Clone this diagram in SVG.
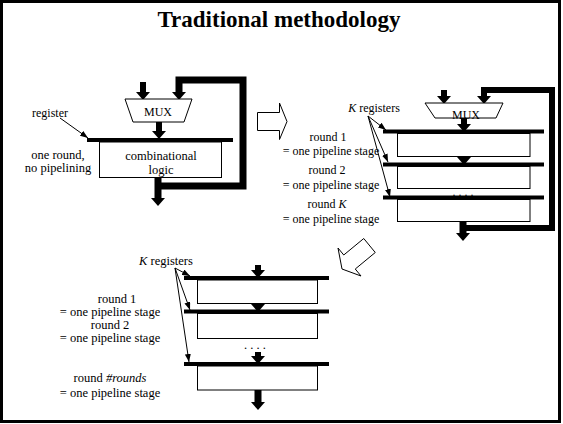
<svg xmlns="http://www.w3.org/2000/svg" width="563" height="424" viewBox="0 0 563 424">
<defs>
<style>
text{font-family:"Liberation Serif","Times New Roman",serif;fill:#000;text-anchor:middle}
.t12{font-size:12px}
.t125{font-size:12.5px}
.title{font-size:23px;font-weight:bold}
.bar{stroke:#000;stroke-width:4}
.box{fill:#fff;stroke:#000;stroke-width:1}
.thk{stroke:#000;stroke-width:6;fill:none;marker-end:url(#big)}
.fb{stroke:#000;stroke-width:7;fill:none;stroke-linejoin:miter;marker-end:url(#big)}
.thin{stroke:#000;stroke-width:1;fill:none;marker-end:url(#small)}
.blk{fill:#fff;stroke:#000;stroke-width:1}
</style>
<marker id="big" markerUnits="userSpaceOnUse" markerWidth="8" markerHeight="14" viewBox="0 0 8 14" refX="0" refY="7" orient="auto"><path d="M0,0 L8,7 L0,14 Z" fill="#000"/></marker>
<marker id="small" markerUnits="userSpaceOnUse" markerWidth="8" markerHeight="6" viewBox="0 0 8 6" refX="8" refY="3" orient="auto"><path d="M0,0 L8,3 L0,6 Z" fill="#000"/></marker>
</defs>
<rect x="1.5" y="1.5" width="558" height="420" fill="#fff" stroke="#000" stroke-width="3"/>
<text class="title" x="279" y="27">Traditional methodology</text>

<g id="connectors">
<line class="thk" x1="143" y1="82" x2="143" y2="92"/>
<line class="thk" x1="159" y1="122" x2="159" y2="131"/>
<path class="fb" d="M158,186 H243 V80 H179 V92"/>
<line class="thk" x1="158" y1="177" x2="158" y2="198" style="stroke-width:7"/>
<line class="thin" x1="60" y1="118" x2="88" y2="138"/>
<line class="thk" x1="444" y1="90" x2="444" y2="96"/>
<path class="fb" d="M463,228 H552 V90 H484 V96" style="stroke-width:6"/>
<line class="thk" x1="464" y1="118" x2="464" y2="124"/>
<line class="thk" x1="464" y1="156" x2="464" y2="157"/>
<line class="thk" x1="463" y1="221" x2="463" y2="233" style="stroke-width:7"/>
<line class="thin" x1="368" y1="116" x2="386" y2="130"/>
<line class="thin" x1="368" y1="116" x2="388" y2="162"/>
<line class="thin" x1="368" y1="116" x2="390" y2="197"/>
<line class="thk" x1="258" y1="265" x2="258" y2="270"/>
<line class="thk" x1="258" y1="303" x2="258" y2="304"/>
<line class="thk" x1="258" y1="352" x2="258" y2="356"/>
<line class="thk" x1="258" y1="390" x2="258" y2="402" style="stroke-width:7"/>
<line class="thin" x1="175" y1="268" x2="190" y2="276"/>
<line class="thin" x1="175" y1="268" x2="190" y2="310"/>
<line class="thin" x1="175" y1="268" x2="189" y2="362"/>
</g>

<g id="left-register"><line class="bar" x1="87" y1="140" x2="233" y2="140"/></g>
<g id="left-logic">
<rect class="box" x="99.5" y="142" width="122" height="35.5"/>
<text class="t125" x="161" y="160">combinational</text>
<text class="t125" x="161" y="174">logic</text>
</g>
<g id="left-mux">
<polygon class="box" points="125,99 192,99 184,122 133,122"/>
<text class="t12" x="158" y="116">MUX</text>
</g>
<g id="left-labels">
<text class="t12" x="50" y="117">register</text>
<text class="t125" x="58" y="159">one round,</text>
<text class="t125" x="58" y="172">no pipelining</text>
</g>

<g id="arrow-right"><polygon class="blk" points="257.5,112.5 279.5,112.5 279.5,103 287,121.5 279.5,139.5 279.5,130.5 257.5,130.5"/></g>
<g id="arrow-downleft"><polygon class="blk" points="363.75,238.5 375.25,252.5 355.25,269 361,276 342,269 338,248 343.75,255"/></g>

<g id="right-mux">
<polygon class="box" points="425,103 503,103 496,118 435,118"/>
<text class="t12" x="466" y="119">MUX</text>
</g>
<g id="right-stage1">
<line class="bar" x1="383" y1="131.5" x2="544" y2="131.5"/>
<rect class="box" x="397.5" y="133.5" width="132.5" height="23"/>
</g>
<g id="right-stage2">
<line class="bar" x1="383" y1="164.5" x2="544" y2="164.5"/>
<rect class="box" x="397.5" y="166.5" width="132.5" height="22"/>
</g>
<text class="t12" x="463" y="196">. . . .</text>
<g id="right-stageK">
<line class="bar" x1="383" y1="197.5" x2="544" y2="197.5"/>
<rect class="box" x="397.5" y="199.5" width="132.5" height="22"/>
</g>
<g id="right-labels">
<text class="t12" x="374" y="112"><tspan font-style="italic">K</tspan> registers</text>
<text class="t12" x="328" y="141">round 1</text>
<text class="t12" x="331" y="155">= one pipeline stage</text>
<text class="t12" x="327" y="174">round 2</text>
<text class="t12" x="331" y="189">= one pipeline stage</text>
<text class="t12" x="327" y="208">round <tspan font-style="italic">K</tspan></text>
<text class="t12" x="331" y="223">= one pipeline stage</text>
</g>

<g id="bottom-stage1">
<line class="bar" x1="184" y1="278" x2="329" y2="278"/>
<rect class="box" x="197.5" y="280" width="120" height="23.5"/>
</g>
<g id="bottom-stage2">
<line class="bar" x1="184" y1="311.5" x2="329" y2="311.5"/>
<rect class="box" x="197.5" y="313.5" width="120" height="25"/>
</g>
<text class="t125" x="255" y="349">. . . .</text>
<g id="bottom-stageN">
<line class="bar" x1="184" y1="364" x2="329" y2="364"/>
<rect class="box" x="197.5" y="366" width="120" height="24"/>
</g>
<g id="bottom-labels">
<text class="t125" x="166" y="265"><tspan font-style="italic">K</tspan> registers</text>
<text class="t125" x="117" y="303">round 1</text>
<text class="t125" x="110" y="316">= one pipeline stage</text>
<text class="t125" x="110" y="329">round 2</text>
<text class="t125" x="110" y="342">= one pipeline stage</text>
<text class="t125" x="110" y="382">round <tspan font-style="italic">#rounds</tspan></text>
<text class="t125" x="110" y="397">= one pipeline stage</text>
</g>
</svg>
